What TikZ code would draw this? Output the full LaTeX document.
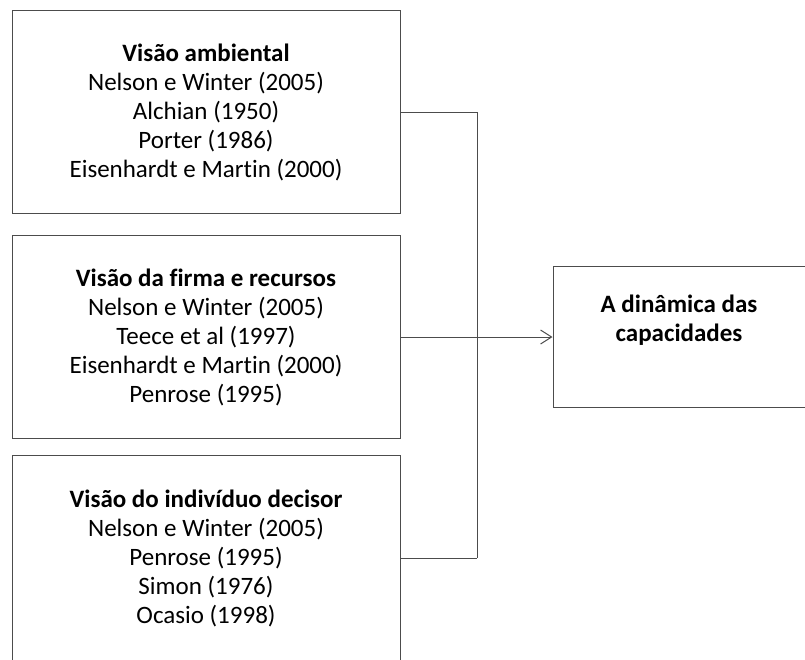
\documentclass[tikz,border=0pt]{standalone}
\usepackage{fontspec}
\setmainfont{Carlito}[Ligatures=NoCommon]
\usetikzlibrary{arrows.meta}

\begin{document}
\begin{tikzpicture}[x=1pt,y=-1pt]

      \useasboundingbox (0,0) rectangle (805,659);
      \clip (0,0) rectangle (805,659);

      \begin{scope}[every node/.style={draw=black!70,line width=1pt,align=center,
          font=\fontsize{25}{29}\selectfont}]
        \node[minimum width=388pt,minimum height=203pt] (amb) at (206,112)
          {\textbf{Visão ambiental}\\Nelson e Winter (2005)\\Alchian (1950)\\Porter (1986)\\Eisenhardt e Martin (2000)};
        \node[minimum width=388pt,minimum height=203pt] (rec) at (206,337)
          {\textbf{Visão da firma e recursos}\\Nelson e Winter (2005)\\Teece et al (1997)\\Eisenhardt e Martin (2000)\\Penrose (1995)};
        \node[minimum width=388pt,minimum height=206pt] (ind) at (206,558)
          {\textbf{Visão do indivíduo decisor}\\Nelson e Winter (2005)\\Penrose (1995)\\Simon (1976)\\Ocasio (1998)};
        \node[minimum width=252pt,minimum height=141pt] (cap) at (679,337)
          {\textbf{A dinâmica das}\\\textbf{capacidades}\\\strut};
      \end{scope}

      \coordinate (top) at (477,112);
      \coordinate (mid) at (477,337);
      \coordinate (bot) at (477,558);

      \begin{scope}[every edge/.style={draw=black!70,line width=1pt}]
        \path (amb.east) edge (top);
        \path (top) edge (bot);
        \path (rec.east) edge (mid);
        \path (ind.east) edge (bot);
        \path (mid) edge[-{Straight Barb[length=11pt,width=14pt]}] (cap.west);
      \end{scope}

    \end{tikzpicture}
\end{document}
